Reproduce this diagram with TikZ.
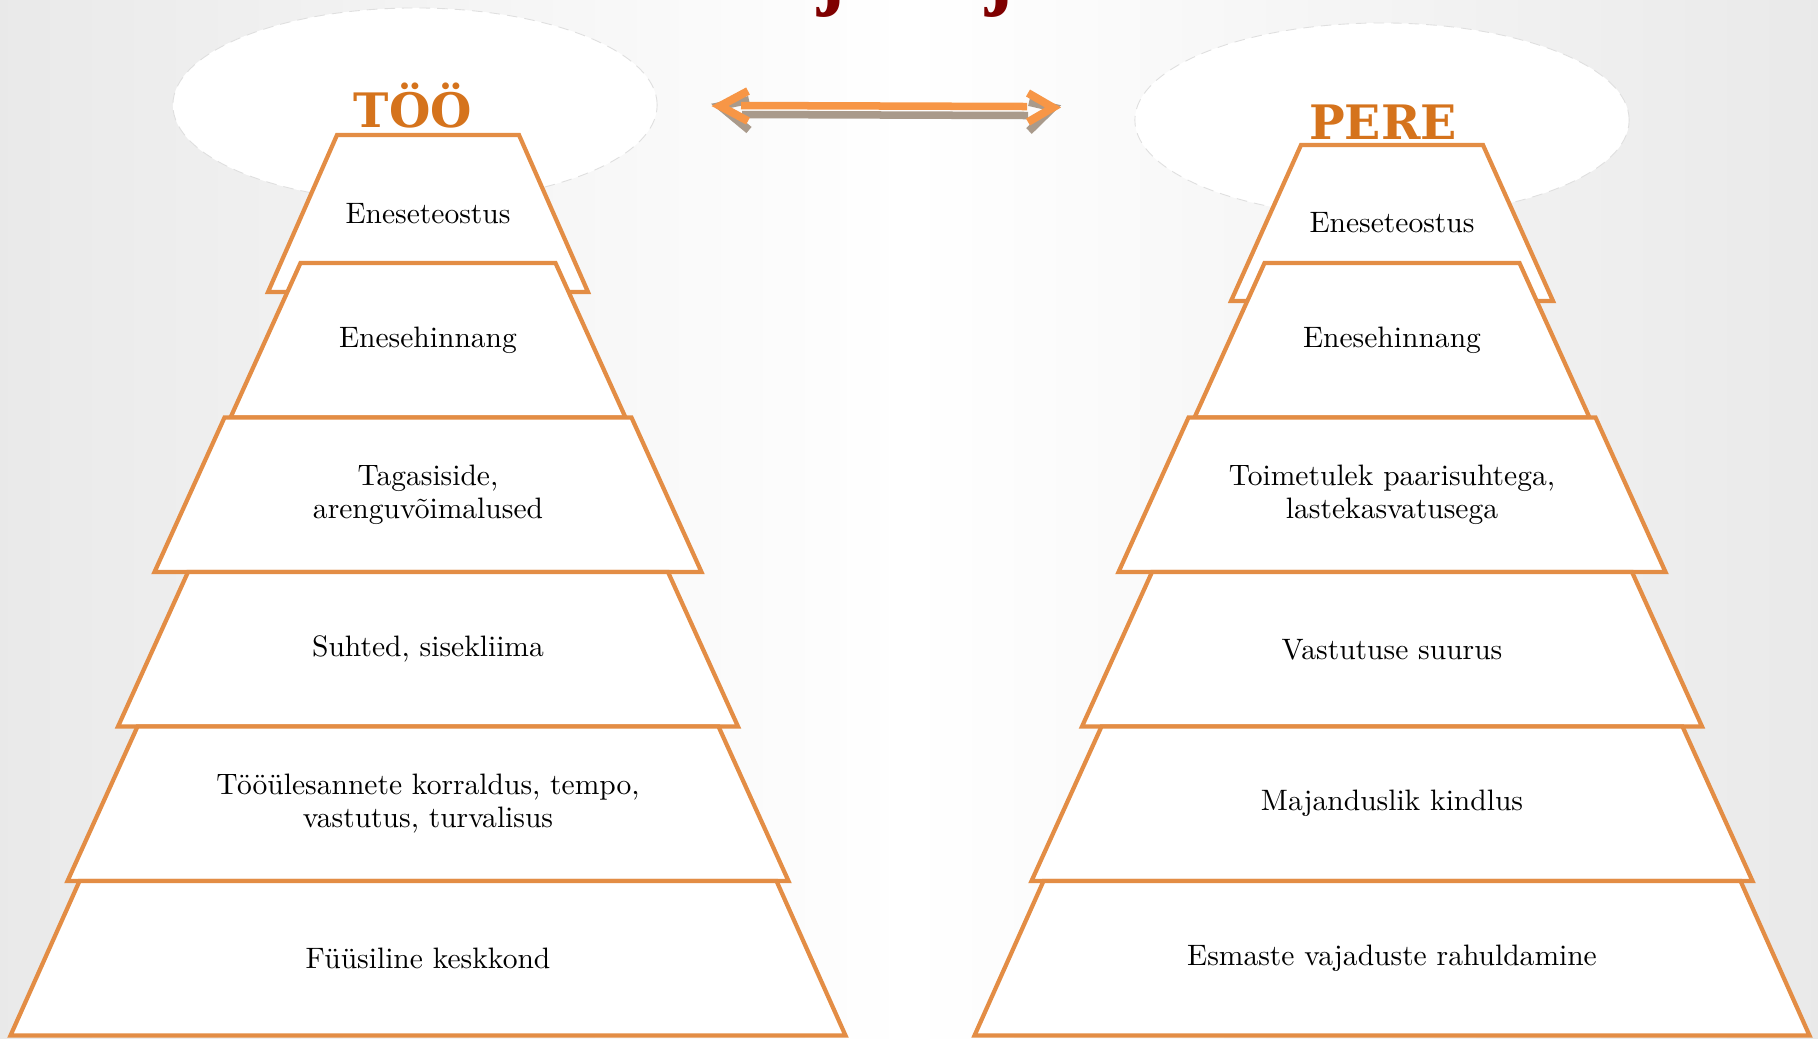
\documentclass[tikz,border=0pt]{standalone}
\usepackage{fontspec}
\newfontfamily\headfont{DejaVu Serif}
\newfontfamily\titlefont{Liberation Serif}
\newfontfamily\lblfont{lmroman10-regular.otf}
\usetikzlibrary{shapes.geometric}
\definecolor{trapline}{HTML}{E38D45}
\definecolor{arroworange}{HTML}{F79646}
\definecolor{arrowshadow}{HTML}{A99A8B}
\definecolor{headorange}{HTML}{D5731C}
\definecolor{titlered}{HTML}{7F0000}
\tikzset{
  lvl/.style={draw=trapline,fill=white,line width=1.2pt,line join=miter},
  lbl/.style={align=center,inner sep=0pt,font=\lblfont\fontsize{8.4}{9.2}\selectfont},
  head/.style={font=\headfont\bfseries\fontsize{13.5}{14}\selectfont,text=headorange,anchor=base},
  bubble/.style={ellipse,fill=white,draw=gray!25,line width=0.25pt,densely dashed},
  chev/.style={line width=0.08cm,line join=miter},
  ttl/.style={font=\titlefont\bfseries\fontsize{24}{26}\selectfont,text=titlered,anchor=base},
}
\begin{document}
\begin{tikzpicture}[x=0.01cm,y=-0.01cm]
\def\cL{428}
\def\cR{1392}
\useasboundingbox (0,0) rectangle (1818,1038);
\shade[left color=gray!17,right color=gray!17,middle color=white] (0,0) rectangle (1818,1038);

% title, cut off at the top
\node[ttl] (j1) at (832,-1) {j};
\node[ttl] (j2) at (1000,-1) {j};

% bubbles and headings
\node[bubble,minimum width=4.84cm,minimum height=1.94cm] (tooBub) at (415,105) {};
\node[bubble,minimum width=4.94cm,minimum height=1.94cm] (pereBub) at (1382,120) {};
\node[head] (tooHead) at (413,127) {TÖÖ};
\node[head] (pereHead) at (1383,139) {PERE};

% double arrow
\path (720,106) coordinate (aL) (1053,107.5) coordinate (aR);
\begin{scope}[shift={(1,9)},arrowshadow]
  \draw[chev] (748,91) -- (aL) -- (748,121);
  \draw[line width=0.075cm] (741,105.5) -- (1027,106.5);
  \draw[chev] (1028,93) -- (aR) -- (1028,122);
\end{scope}
\draw[chev,arroworange] (748,91) -- (aL) -- (748,121);
\draw[line width=0.075cm,arroworange] (741,105.5) -- (1027,106.5);
\draw[chev,arroworange] (1028,93) -- (aR) -- (1028,122);

% TOO pyramid
\foreach \n/\yt/\yb/\wt/\wb/\txt in {
  1/135/292/91/160/Eneseteostus,
  2/263/417.5/127.5/197.5/Enesehinnang,
  3/417.5/572/203.5/273.5/{Tagasiside,\\arenguvõimalused},
  4/572/726.5/240/310/{Suhted, sisekliima},
  5/726.5/881/290.5/360.5/{Tööülesannete korraldus, tempo,\\vastutus, turvalisus},
  6/881/1035.5/348.5/417.5/Füüsiline keskkond}{
  \filldraw[lvl] ({\cL-\wt},\yt) -- ({\cL+\wt},\yt) -- ({\cL+\wb},\yb) -- ({\cL-\wb},\yb) -- cycle;
  \node[lbl] (t\n) at (\cL,{(\yt+\yb)/2}) {\txt};
}

% PERE pyramid
\foreach \n/\yt/\yb/\wt/\wb/\txt in {
  1/145/301/91/161/Eneseteostus,
  2/263/417.5/127.5/197.5/Enesehinnang,
  3/417.5/572/203.5/273.5/{Toimetulek paarisuhtega,\\lastekasvatusega},
  4/572/726.5/240/310/Vastutuse suurus,
  5/726.5/881/290.5/360.5/Majanduslik kindlus,
  6/881/1035.5/348.5/417.5/Esmaste vajaduste rahuldamine}{
  \filldraw[lvl] ({\cR-\wt},\yt) -- ({\cR+\wt},\yt) -- ({\cR+\wb},\yb) -- ({\cR-\wb},\yb) -- cycle;
  \node[lbl] (p\n) at (\cR,{(\yt+\yb)/2}) {\txt};
}
\end{tikzpicture}
\end{document}
